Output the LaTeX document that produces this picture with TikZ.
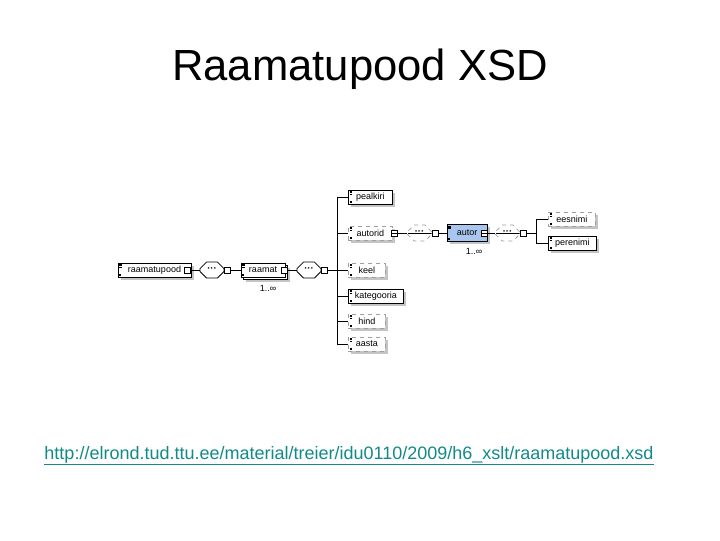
\documentclass[tikz,border=0pt]{standalone}
\usepackage{fontspec}
\setmainfont{Liberation Sans}
\usepackage{tikz}
\usetikzlibrary{shapes.misc, shadows, calc}
\definecolor{autorBlue}{HTML}{A9C6EE}
\definecolor{urlTeal}{HTML}{138A8A}
\definecolor{shadeGray}{HTML}{C4C4C4}

\begin{document}
\begin{tikzpicture}[x=0.75pt, y=-0.75pt,
  elem/.style={draw, line width=0.6pt, fill=white, minimum height=10.5pt,
    inner sep=1pt, font=\fontsize{6.75}{8}\selectfont,
    general shadow={fill=shadeGray, shadow xshift=2pt, shadow yshift=-2pt},
    path picture={
      \foreach \k in {1,2,3}
        \draw[solid, black, line width=0.4pt]
          ([xshift=1pt, yshift=-\k*1pt]path picture bounding box.north west) -- ++(2pt,0);
      \fill[black] ([xshift=1pt, yshift=1pt]path picture bounding box.south west)
        rectangle ++(1.5pt,1.5pt);
    }},
  optelem/.style={elem, draw=gray!75, dashed},
  multi/.style={elem,
    general shadow={fill=shadeGray, shadow xshift=4pt, shadow yshift=-4pt},
    copy shadow={shadow xshift=2pt, shadow yshift=-2pt}},
  seq/.style={chamfered rectangle, chamfered rectangle xsep=3pt, draw,
    line width=0.6pt, fill=white, minimum width=18pt, minimum height=12pt,
    inner sep=0pt, font=\fontsize{7}{7}\selectfont\bfseries},
  seqline/.style={seq, draw=gray!75, dashed,
    path picture={\draw[solid, black, line width=0.6pt]
      (path picture bounding box.west) -- (path picture bounding box.east);}},
  sq/.style={draw, line width=0.6pt, fill=white, minimum size=4.5pt, inner sep=0pt},
  minus/.style={sq, path picture={\draw[line width=0.5pt]
      (path picture bounding box.west) -- (path picture bounding box.east);}},
  conn/.style={line width=0.6pt},
  mult/.style={font=\fontsize{6.75}{8}\selectfont}
]
  \fill[white] (0,0) rectangle (720,540);
  \useasboundingbox (0,0) rectangle (720,540);

  % Title
  \node[font=\fontsize{32.7}{36}\selectfont, anchor=base] (title) at (360,80)
    {Raamatupood XSD};

  % Root element and its sequence
  \node[elem, minimum width=54.75pt] (raamatupood) at (154.5,270) {raamatupood};
  \node[sq] (raamatupood-sq) at ([xshift=-3pt]raamatupood.east) {};
  \node[seq] (seq1) at (212,270) {···};
  \node[sq] (seq1-sq) at ([xshift=2.25pt]seq1.east) {};

  % raamat, 1..oo
  \node[multi, minimum width=33pt] (raamat) at (263,270) {raamat};
  \node[sq] (raamat-sq) at ([xshift=-1pt]raamat.east) {};
  \node[mult] (raamat-mult) at (268,288) {1..∞};
  \node[seq] (seq2) at (309,270) {···};
  \node[sq] (seq2-sq) at ([xshift=2.25pt]seq2.east) {};

  % Children of raamat
  \node[elem, anchor=west, minimum width=33pt] (pealkiri) at (348,197) {pealkiri};
  \node[optelem, anchor=west, minimum width=33pt] (autorid) at (348,233) {autorid};
  \node[optelem, anchor=west, minimum width=27.75pt] (keel) at (348,270) {keel};
  \node[elem, anchor=west, minimum width=41.25pt] (kategooria) at (348,296) {kategooria};
  \node[optelem, anchor=west, minimum width=27.75pt] (hind) at (348,321) {hind};
  \node[optelem, anchor=west, minimum width=27.75pt] (aasta) at (348,344) {aasta};

  \coordinate (trunk) at (337,270);
  \draw[conn] (raamatupood-sq.east) -- (seq1.west);
  \draw[conn] (seq1-sq.east) -- (raamat.west);
  \draw[conn] (raamat-sq.east) -- (seq2.west);
  \draw[conn] (seq2-sq.east) -- (trunk);
  \draw[conn] (trunk |- pealkiri.west) -- (trunk |- aasta.west);
  \foreach \c in {pealkiri,autorid,keel,kategooria,hind,aasta}
    \draw[conn] (trunk |- \c.west) -- (\c.west);

  % autorid -> autor
  \node[minus] (autorid-sq) at ([xshift=1pt]autorid.east) {};
  \node[seqline] (seq3) at (419.5,233) {···};
  \node[sq] (seq3-sq) at ([xshift=2.25pt]seq3.east) {};
  \node[elem, fill=autorBlue, minimum width=30pt, minimum height=12.75pt]
    (autor) at (467,233) {autor};
  \node[minus] (autor-sq) at ([xshift=-2.5pt]autor.east) {};
  \node[mult] (autor-mult) at (474,251) {1..∞};
  \node[seqline] (seq4) at (507.5,233) {···};
  \node[sq] (seq4-sq) at ([xshift=2.25pt]seq4.east) {};

  \draw[conn] (autorid-sq.east) -- (seq3.west);
  \draw[conn] (seq3-sq.east) -- (autor.west);
  \draw[conn] (autor-sq.east) -- (seq4.west);

  % eesnimi, perenimi
  \node[optelem, anchor=west, minimum width=35.25pt] (eesnimi) at (548,219) {eesnimi};
  \node[elem, anchor=west, minimum width=36pt] (perenimi) at (548,243) {perenimi};
  \coordinate (fork) at (536,233);
  \draw[conn] (seq4-sq.east) -- (fork);
  \draw[conn] (fork |- eesnimi.west) -- (fork |- perenimi.west);
  \foreach \c in {eesnimi,perenimi}
    \draw[conn] (fork |- \c.west) -- (\c.west);

  % Source link
  \node[font=\fontsize{13.5}{16}\selectfont, text=urlTeal, anchor=base] (url) at (349,459)
    {\underline{http://elrond.tud.ttu.ee/material/treier/idu0110/2009/h6\_xslt/raamatupood.xsd}};
\end{tikzpicture}
\end{document}
